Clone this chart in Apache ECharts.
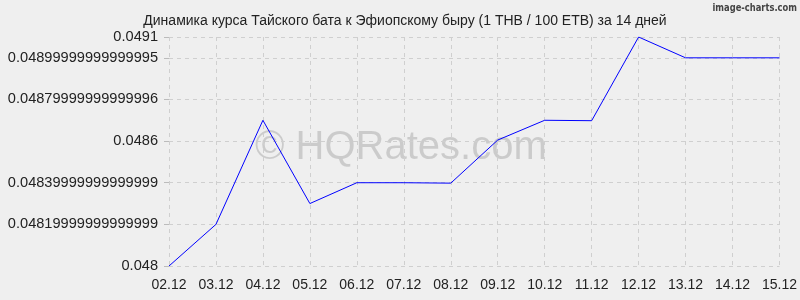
<!DOCTYPE html>
<html><head><meta charset="utf-8">
<script src="https://cdn.jsdelivr.net/npm/echarts@6/dist/echarts.min.js"></script>
<style>html,body{margin:0;padding:0;background:#efefef}#c{width:800px;height:300px}</style>
</head><body><div id="c"></div>
<script>
var categories = ['02.12','03.12','04.12','05.12','06.12','07.12','08.12','09.12','10.12','11.12','12.12','13.12','14.12','15.12'];
var rates = [0.0480, 0.0482, 0.04870, 0.04830, 0.04840, 0.04840, 0.048398, 0.048605, 0.04870, 0.048698, 0.0491, 0.049, 0.049, 0.049];
var tickValues = [0.048, 0.0482, 0.0484, 0.0486, 0.0488, 0.049, 0.0491];
var tickLabels = ['0.048','0.04819999999999999','0.04839999999999999','0.0486','0.04879999999999996','0.04899999999999995','0.0491'];
var chart = echarts.init(document.getElementById('c'));
var font = 'Liberation Sans, Arial, sans-serif';
chart.setOption({
  backgroundColor: '#efefef',
  animation: false,
  title: {text: 'Динамика курса Тайского бата к Эфиопскому быру (1 THB / 100 ETB) за 14 дней', left: 400, textAlign: 'center', top: 9,
    textStyle: {fontFamily: font, fontSize: 14, fontWeight: 'normal', color: '#222'}},
  graphic: [
    {type: 'text', left: 255, top: 128, z: 0, style: {text: '© HQRates.com', font: '40px ' + font, fill: 'rgba(0,0,0,0.15)'}},
    {type: 'text', x: 797, y: 3, scaleX: 0.76, style: {text: 'image-charts.com', textAlign: 'right', textVerticalAlign: 'top', font: 'bold 11px DejaVu Sans, sans-serif', fill: '#444'}}
  ],
  grid: {left: 169, right: 20, top: 37, bottom: 34},
  xAxis: {type: 'category', data: categories, boundaryGap: false,
    axisLine: {show: false}, axisTick: {show: false},
    axisLabel: {fontFamily: font, fontSize: 14, color: '#222', margin: 12},
    splitLine: {show: true, lineStyle: {color: '#cfcfcf', type: [4, 4]}}},
  yAxis: {type: 'value', min: 0.048, max: 0.0491, interval: 0.0002,
    axisLine: {show: false},
    axisTick: {show: true, length: 5, lineStyle: {color: '#bbb'}},
    axisLabel: {fontFamily: font, fontSize: 14.6, color: '#222', margin: 11, showMaxLabel: true,
      formatter: function (v) {
        for (var i = 0; i < tickValues.length; i++) if (Math.abs(v - tickValues[i]) < 1e-8) return tickLabels[i];
        return '';
      }},
    splitLine: {show: true, lineStyle: {color: '#cfcfcf', type: [4, 4]}}},
  series: [{type: 'line', data: rates, symbol: 'none', z: 5, lineStyle: {color: '#0000ff', width: 1}}]
});
</script></body></html>
